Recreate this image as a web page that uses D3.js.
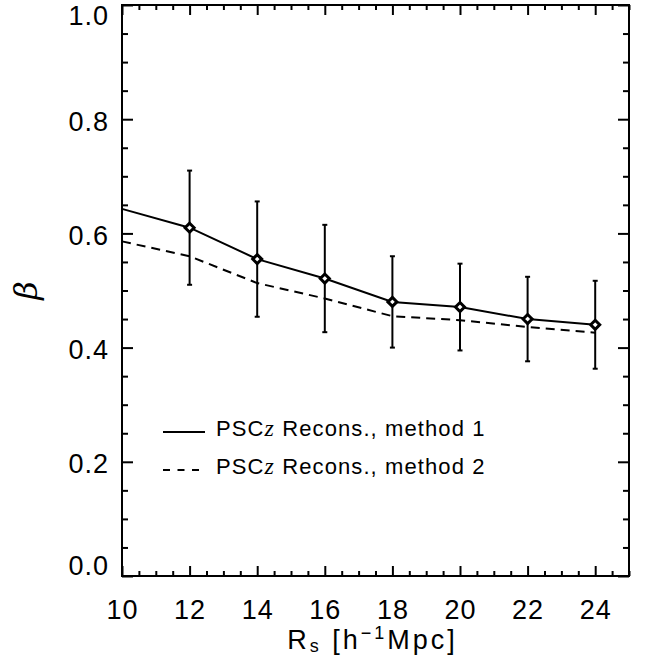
<!DOCTYPE html>
<html>
<head>
<meta charset="utf-8">
<script src="https://cdn.jsdelivr.net/npm/d3@7"></script>
<style>
  body { margin: 0; background: #fff; }
  svg { display: block; }
  .axis text { font-family: "Liberation Sans", "DejaVu Sans", sans-serif; font-size: 27px; fill: #000; letter-spacing: 1px; }
  .axis line { stroke: #000; stroke-width: 2px; }
  .axis path { display: none; }
</style>
</head>
<body>
<div id="chart"></div>
<script>
// Smoothing radius (h^-1 Mpc)
var lineRs = [10, 12, 14, 16, 18, 20, 22, 24];
var method1 = [0.643, 0.610, 0.555, 0.521, 0.480, 0.471, 0.450, 0.440];
var method2 = [0.586, 0.560, 0.513, 0.486, 0.455, 0.448, 0.436, 0.426];

// points with error bars (method 1)
var pointRs = [12, 14, 16, 18, 20, 22, 24];
var pointBeta = [0.610, 0.555, 0.521, 0.480, 0.471, 0.450, 0.440];
var pointErr = [0.100, 0.101, 0.094, 0.080, 0.076, 0.074, 0.077];

var xTicks = [10, 12, 14, 16, 18, 20, 22, 24];
var yTicks = [0.0, 0.2, 0.4, 0.6, 0.8, 1.0];
var legendLabels = ["method 1", "method 2"];

var W = 645, H = 668;
var margin = {top: 5, right: 16, bottom: 92, left: 122};
var width = W - margin.left - margin.right,
    height = H - margin.top - margin.bottom;

var x = d3.scaleLinear().domain([10, 25]).range([0, width]);
var y = d3.scaleLinear().domain([0, 1]).range([height, 0]);

var svg = d3.select("#chart").append("svg")
    .attr("width", W)
    .attr("height", H);

var g = svg.append("g")
    .attr("transform", "translate(" + margin.left + "," + margin.top + ")");

var xMinor = d3.range(10, 25.01, 0.5).filter(function(d) { return d % 2 !== 0; });
var yMinor = d3.range(0, 1.001, 0.05).filter(function(d) { return Math.round(d * 100) % 20 !== 0; });

// bottom axis
g.append("g").attr("class", "axis")
    .attr("transform", "translate(0," + height + ")")
    .call(d3.axisBottom(x).tickValues(xTicks).tickSize(-10).tickSizeOuter(0).tickPadding(24).tickFormat(d3.format("d")));
g.append("g").attr("class", "axis")
    .attr("transform", "translate(0," + height + ")")
    .call(d3.axisBottom(x).tickValues(xMinor).tickSize(-5).tickSizeOuter(0).tickFormat(""));
// top axis
g.append("g").attr("class", "axis")
    .call(d3.axisTop(x).tickValues(xTicks).tickSize(-10).tickSizeOuter(0).tickFormat(""));
g.append("g").attr("class", "axis")
    .call(d3.axisTop(x).tickValues(xMinor).tickSize(-5).tickSizeOuter(0).tickFormat(""));

// left axis
var yAxisG = g.append("g").attr("class", "axis")
    .call(d3.axisLeft(y).tickValues(yTicks).tickSize(-11).tickSizeOuter(0).tickPadding(13).tickFormat(d3.format(".1f")));
yAxisG.selectAll("text").attr("dy", function(d) {
    if (d === 1) return "0.74em";
    if (d === 0) return "-0.04em";
    return "0.4em";
});
g.append("g").attr("class", "axis")
    .call(d3.axisLeft(y).tickValues(yMinor).tickSize(-6).tickSizeOuter(0).tickFormat(""));
// right axis
g.append("g").attr("class", "axis")
    .attr("transform", "translate(" + width + ",0)")
    .call(d3.axisRight(y).tickValues(yTicks).tickSize(-11).tickSizeOuter(0).tickFormat(""));
g.append("g").attr("class", "axis")
    .attr("transform", "translate(" + width + ",0)")
    .call(d3.axisRight(y).tickValues(yMinor).tickSize(-6).tickSizeOuter(0).tickFormat(""));

// frame
g.append("rect")
    .attr("width", width)
    .attr("height", height)
    .attr("fill", "none")
    .attr("stroke", "#000")
    .attr("stroke-width", 2);

var line = d3.line()
    .x(function(d) { return x(d[0]); })
    .y(function(d) { return y(d[1]); });

g.append("path")
    .attr("d", line(d3.zip(lineRs, method1)))
    .attr("fill", "none").attr("stroke", "#000").attr("stroke-width", 2);

g.append("path")
    .attr("d", line(d3.zip(lineRs, method2)))
    .attr("fill", "none").attr("stroke", "#000").attr("stroke-width", 2)
    .attr("stroke-dasharray", "9,6");

// error bars
var pts = pointRs.map(function(r, i) { return {r: r, b: pointBeta[i], e: pointErr[i]}; });
var eb = g.append("g").attr("stroke", "#000").attr("stroke-width", 2);
eb.selectAll(".ebar").data(pts).enter().append("line")
    .attr("x1", function(d) { return x(d.r); })
    .attr("x2", function(d) { return x(d.r); })
    .attr("y1", function(d) { return y(d.b - d.e); })
    .attr("y2", function(d) { return y(d.b + d.e); });
eb.selectAll(".capHi").data(pts).enter().append("line")
    .attr("x1", function(d) { return x(d.r) - 2.5; })
    .attr("x2", function(d) { return x(d.r) + 2.5; })
    .attr("y1", function(d) { return y(d.b + d.e); })
    .attr("y2", function(d) { return y(d.b + d.e); });
eb.selectAll(".capLo").data(pts).enter().append("line")
    .attr("x1", function(d) { return x(d.r) - 2.5; })
    .attr("x2", function(d) { return x(d.r) + 2.5; })
    .attr("y1", function(d) { return y(d.b - d.e); })
    .attr("y2", function(d) { return y(d.b - d.e); });

// diamonds
g.selectAll(".diamond").data(pts).enter().append("path")
    .attr("transform", function(d) { return "translate(" + x(d.r) + "," + y(d.b) + ")"; })
    .attr("d", "M0,-4.5L4.5,0L0,4.5L-4.5,0Z")
    .attr("fill", "#fff")
    .attr("stroke", "#000")
    .attr("stroke-width", 3);

// legend
var legend = svg.append("g");
legendLabels.forEach(function(lab, i) {
    var ly = 432 + i * 38;
    legend.append("line")
        .attr("x1", 163).attr("x2", 205)
        .attr("y1", ly).attr("y2", ly)
        .attr("stroke", "#000").attr("stroke-width", 2)
        .attr("stroke-dasharray", i === 0 ? null : "7,7.5");
    var t = legend.append("text")
        .attr("x", 216).attr("y", ly + 4)
        .style("font-family", "'Liberation Sans', sans-serif")
        .style("font-size", "22px")
        .style("letter-spacing", "1.1px");
    t.append("tspan").text("PSC");
    t.append("tspan").text("z")
        .style("font-family", "'Liberation Serif', serif")
        .style("font-style", "italic")
        .style("font-size", "24px");
    t.append("tspan").text(" Recons., " + lab);
});

// axis titles
var xt = svg.append("text")
    .attr("x", margin.left + width / 2 - 3)
    .attr("y", 649)
    .attr("text-anchor", "middle")
    .style("font-family", "'Liberation Sans', sans-serif")
    .style("font-size", "27px")
    .style("letter-spacing", "3px");
xt.append("tspan").text("R");
xt.append("tspan").text("s").style("font-size", "18px").attr("dy", "3");
xt.append("tspan").text(" [h").attr("dy", "-3");
xt.append("tspan").text("\u22121").style("font-size", "18px").attr("dy", "-10");
xt.append("tspan").text("Mpc]").attr("dy", "10");

svg.append("text")
    .attr("transform", "translate(37," + (margin.top + height / 2) + ") rotate(-90)")
    .attr("text-anchor", "middle")
    .style("font-family", "'DejaVu Serif', serif")
    .style("font-style", "italic")
    .style("font-size", "32px")
    .text("\u03b2");
</script>
</body>
</html>
